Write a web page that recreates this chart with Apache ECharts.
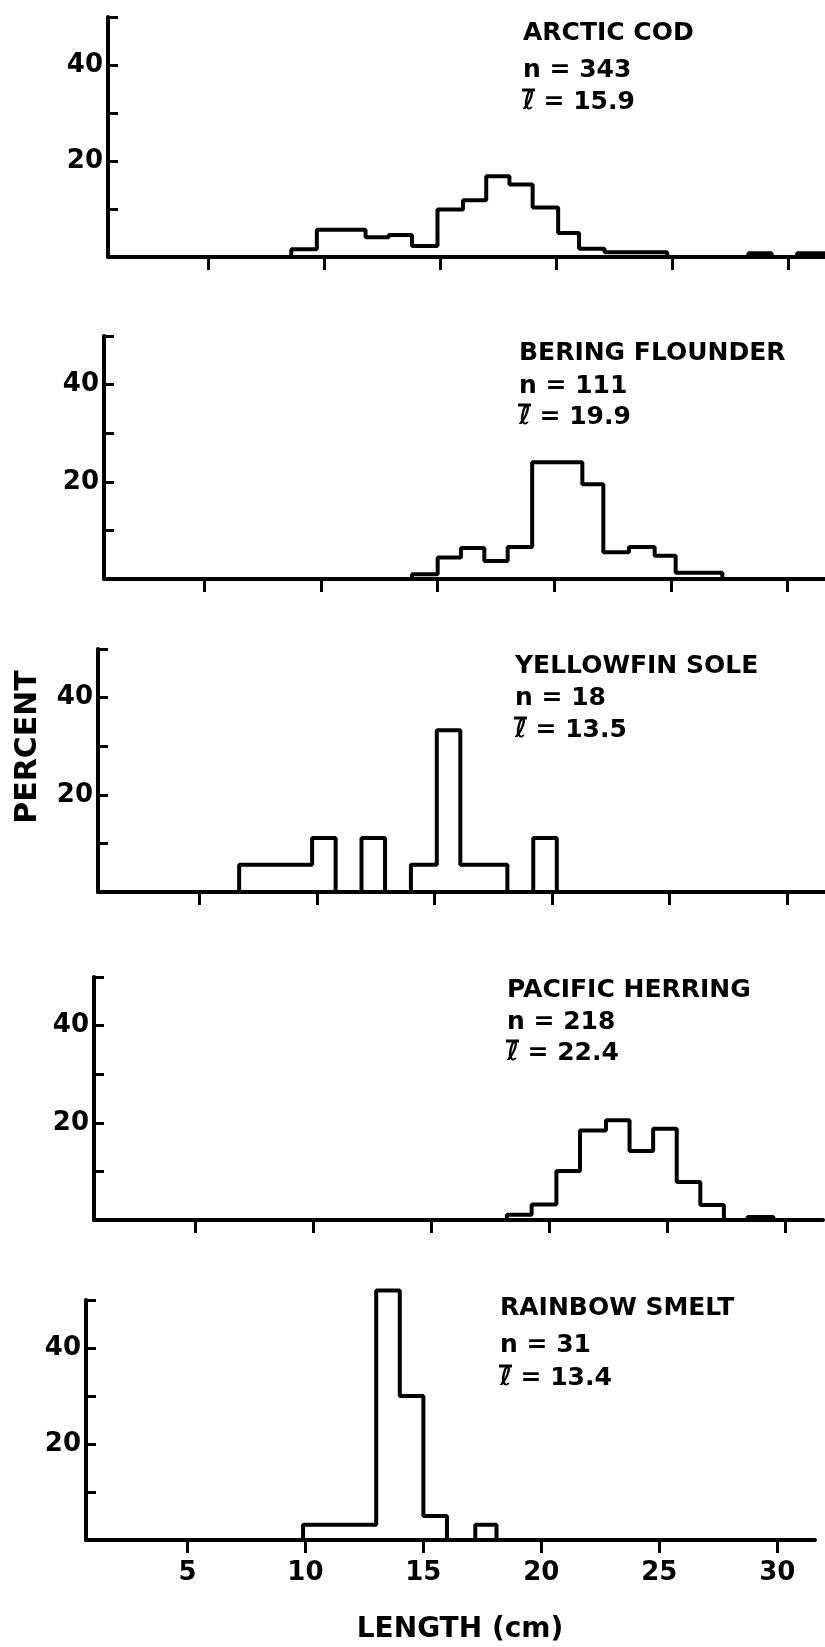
<!DOCTYPE html>
<html><head><meta charset="utf-8">
<script src="https://cdn.jsdelivr.net/npm/echarts@6/dist/echarts.min.js"></script>
<style>html,body{margin:0;padding:0;background:#fff}#c{width:825px;height:1647px}</style>
</head><body><div id="c"></div>
<script>
// ---- data ----
const xTickValues = [5, 10, 15, 20, 25, 30];
const yLabelValues = [20, 40];
const species = ['ARCTIC COD', 'BERING FLOUNDER', 'YELLOWFIN SOLE', 'PACIFIC HERRING', 'RAINBOW SMELT'];
const sampleN = ['343', '111', '18', '218', '31'];
const meanLen = ['15.9', '19.9', '13.5', '22.4', '13.4'];

const codEdges = [8.6, 9.7, 11.8, 12.8, 13.8, 14.9, 16.0, 17.0, 18.0, 19.0, 20.1, 21.0, 22.1, 24.8, 28.3, 29.3, 30.4, 31.6];
const codPct   = [1.6, 5.7, 4.1, 4.6, 2.3, 9.9, 11.8, 16.8, 15.1, 10.3, 5.0, 1.7, 1.0, 0, 0.8, 0, 0.8];

const flounderEdges = [13.9, 15.0, 16.0, 17.0, 18.0, 19.05, 21.2, 22.1, 23.2, 24.3, 25.2, 27.2];
const flounderPct   = [1.0, 4.4, 6.4, 3.7, 6.6, 24.0, 19.5, 5.5, 6.6, 4.8, 1.3];

const yellowfinEdges = [6.7, 9.8, 10.8, 11.9, 12.9, 14.0, 15.1, 16.1, 18.1, 19.2, 20.2];
const yellowfinPct   = [5.6, 11.1, 0, 11.1, 0, 5.6, 33.3, 5.6, 0, 11.1];

const herringEdges = [18.2, 19.25, 20.3, 21.3, 22.4, 23.4, 24.4, 25.4, 26.4, 27.4, 28.4, 29.5];
const herringPct   = [1.1, 3.2, 10.1, 18.4, 20.5, 14.2, 18.8, 7.8, 3.1, 0, 0.6];

const smeltEdges = [9.9, 13.0, 14.0, 15.0, 16.0, 17.2, 18.1];
const smeltPct   = [3.2, 52, 30, 5, 0, 3.2];

const allEdges = [codEdges, flounderEdges, yellowfinEdges, herringEdges, smeltEdges];
const allPct = [codPct, flounderPct, yellowfinPct, herringPct, smeltPct];

// ---- layout (positions / sizes) ----
const gridLeft = [108, 104, 98, 94, 86];
const gridTop = [17, 336, 649, 977, 1300];
const gridHeight = [240, 243, 243, 243, 240];
const gridWidth = 729;
const textX = [523, 519, 515, 507, 500];
const textY = [[33, 70, 102], [353, 386, 417], [666, 698, 730], [990, 1022, 1053], [1308, 1345, 1378]];

const FONT = "'DejaVu Sans', sans-serif";

function stepData(edges, vals) {
  const d = [[edges[0], 0]];
  for (let i = 0; i < vals.length; i++) d.push([edges[i + 1], vals[i]]);
  d.push([edges[edges.length - 1], 0]);
  return d;
}

const grids = [], xAxes = [], yAxes = [], series = [], graphics = [];
for (let i = 0; i < 5; i++) {
  grids.push({ left: gridLeft[i], top: gridTop[i], width: gridWidth, height: gridHeight[i], containLabel: false });
  const last = i === 4;
  xAxes.push({
    type: 'value', gridIndex: i, min: 0.7, max: 31.6,
    splitLine: { show: false },
    axisLine: { show: true, onZero: false, lineStyle: { color: '#000', width: 4 } },
    axisTick: { show: true, customValues: xTickValues, length: 13, inside: false, lineStyle: { color: '#000', width: 3 } },
    axisLabel: { show: last, customValues: xTickValues, margin: 20, color: '#000', fontFamily: FONT, fontWeight: 'bold', fontSize: 26 }
  });
  yAxes.push({
    type: 'value', gridIndex: i, min: 0, max: 50, interval: 10,
    splitLine: { show: false },
    axisLine: { show: true, onZero: false, lineStyle: { color: '#000', width: 4 } },
    axisTick: { show: true, inside: true, length: 10, lineStyle: { color: '#000', width: 3 } },
    axisLabel: {
      show: true, margin: 5, color: '#000', fontFamily: FONT, fontWeight: 'bold', fontSize: 26,
      formatter: v => (yLabelValues.indexOf(v) >= 0 ? String(v) : '')
    }
  });
  series.push({
    type: 'line', xAxisIndex: i, yAxisIndex: i, step: 'start', symbol: 'none', clip: false,
    lineStyle: { color: '#000', width: 4 }, data: stepData(allEdges[i], allPct[i]), z: 5
  });
  const lines = [species[i], 'n = ' + sampleN[i], 'ℓ = ' + meanLen[i]];
  lines.forEach((t, k) => {
    graphics.push({
      type: 'text', x: textX[i], y: textY[i][k],
      style: { text: t, fill: '#000', font: "bold 25px " + FONT, verticalAlign: 'middle', align: 'left' }
    });
  });
  // bar over the mean-length symbol
  graphics.push({
    type: 'line', shape: { x1: textX[i] - 1, y1: textY[i][2] - 12, x2: textX[i] + 12, y2: textY[i][2] - 12 },
    style: { stroke: '#000', lineWidth: 3 }
  });
}
graphics.push({
  type: 'text', x: 28, y: 747, rotation: Math.PI / 2,
  style: { text: 'PERCENT', fill: '#000', font: "bold 30px " + FONT, align: 'center', verticalAlign: 'middle' }
});
graphics.push({
  type: 'text', x: 460, y: 1630,
  style: { text: 'LENGTH (cm)', fill: '#000', font: "bold 28px " + FONT, align: 'center', verticalAlign: 'middle' }
});

const chart = echarts.init(document.getElementById('c'), null, { renderer: 'canvas' });
chart.setOption({
  animation: false,
  backgroundColor: '#fff',
  grid: grids, xAxis: xAxes, yAxis: yAxes, series: series, graphic: graphics
});
</script></body></html>
